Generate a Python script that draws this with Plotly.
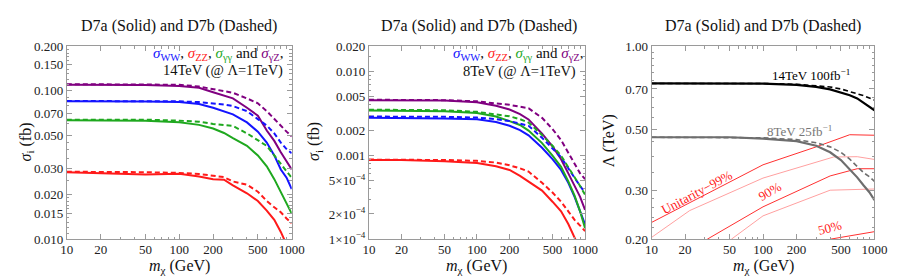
import math
import plotly.graph_objects as go

# ---------------- data ----------------
mass = [10, 20, 50, 100, 150, 200, 250, 300, 400, 500, 600, 700, 800, 900, 1000]

# 14 TeV panel (fb)
ww14_a = [0.085, 0.085, 0.0848, 0.084, 0.0815, 0.077, 0.073, 0.0695, 0.0613, 0.0531, 0.0448, 0.0367, 0.0295, 0.026, 0.0218]
ww14_b = [0.0855, 0.0855, 0.0855, 0.085, 0.084, 0.0825, 0.081, 0.079, 0.073, 0.0645, 0.0584, 0.0517, 0.0448, 0.0405, 0.038]
zz14_a = [0.0283, 0.0280, 0.0273, 0.0276, 0.0265, 0.0254, 0.0252, 0.0231, 0.0204, 0.0181, 0.0156, 0.0135, 0.0112, 0.0092, 0.008]
zz14_b = [0.0285, 0.0285, 0.0283, 0.028, 0.0275, 0.0268, 0.0262, 0.0245, 0.0233, 0.0209, 0.0181, 0.0164, 0.0152, 0.0138, 0.0128]
aa14_a = [0.0635, 0.0635, 0.063, 0.0615, 0.059, 0.0557, 0.052, 0.048, 0.0426, 0.0367, 0.031, 0.0254, 0.0209, 0.0176, 0.0149]
aa14_b = [0.064, 0.064, 0.064, 0.063, 0.062, 0.0598, 0.059, 0.058, 0.0517, 0.0467, 0.0426, 0.0367, 0.0325, 0.0287, 0.026]
az14_a = [0.110, 0.110, 0.1095, 0.108, 0.105, 0.098, 0.0935, 0.089, 0.077, 0.068, 0.054, 0.046, 0.0386, 0.0335, 0.0295]
az14_b = [0.111, 0.111, 0.1105, 0.110, 0.107, 0.103, 0.099, 0.097, 0.089, 0.0825, 0.073, 0.0645, 0.0584, 0.0531, 0.0493]

# 8 TeV panel (fb)
ww8_a = [0.0028, 0.00279, 0.00275, 0.0027, 0.0025, 0.00225, 0.002, 0.00173, 0.00123, 0.0009, 0.00067, 0.00047, 0.00032, 0.000215, 0.00015]
ww8_b = [0.0029, 0.0029, 0.00288, 0.00282, 0.0027, 0.00256, 0.0024, 0.00225, 0.00162, 0.0012, 0.00095, 0.0007, 0.00053, 0.00043, 0.00036]
zz8_a = [0.00088, 0.00088, 0.00085, 0.00081, 0.00074, 0.00067, 0.00057, 0.00049, 0.00038, 0.00028, 0.000215, 0.000152, 0.0001, 0.000075, 0.00006]
zz8_b = [0.00089, 0.00089, 0.00088, 0.00086, 0.00082, 0.00076, 0.0007, 0.00064, 0.00047, 0.00036, 0.00028, 0.000215, 0.00017, 0.000145, 0.000125]
aa8_a = [0.00342, 0.0034, 0.00335, 0.0032, 0.0029, 0.00256, 0.0023, 0.00197, 0.0014, 0.00099, 0.00073, 0.00049, 0.00033, 0.000215, 0.000135]
aa8_b = [0.0035, 0.0035, 0.00345, 0.0033, 0.0031, 0.00292, 0.0027, 0.00246, 0.00175, 0.0013, 0.00099, 0.00073, 0.00054, 0.00043, 0.00034]
az8_a = [0.00455, 0.00453, 0.0045, 0.0043, 0.0039, 0.00352, 0.0031, 0.00268, 0.00181, 0.00128, 0.0009, 0.00061, 0.00043, 0.00032, 0.000224]
az8_b = [0.0046, 0.0046, 0.00455, 0.0044, 0.0042, 0.0040, 0.0038, 0.00364, 0.0028, 0.00206, 0.00152, 0.00107, 0.00079, 0.00061, 0.00052]

# Lambda reach panel (TeV)
mass3 = [10, 50, 100, 200, 300, 400, 500, 600, 700, 800, 900, 1000]
lam14_a = [0.733, 0.733, 0.732, 0.724, 0.712, 0.698, 0.681, 0.664, 0.647, 0.625, 0.605, 0.586]
lam14_b = [0.733, 0.733, 0.733, 0.728, 0.720, 0.712, 0.700, 0.686, 0.674, 0.662, 0.649, 0.638]
lam8_a = [0.468, 0.468, 0.463, 0.453, 0.436, 0.413, 0.387, 0.358, 0.335, 0.313, 0.296, 0.277]
lam8_b = [0.468, 0.468, 0.466, 0.459, 0.447, 0.432, 0.413, 0.390, 0.367, 0.348, 0.337, 0.324]

u99_dark_m = [10, 100, 300, 600, 1000]
u99_dark = [0.230, 0.372, 0.432, 0.478, 0.476]
u99_light_m = [10, 22, 100, 430, 700, 1000]
u99_light = [0.203, 0.254, 0.333, 0.397, 0.398, 0.389]
u90_dark_m = [31.6, 100, 400, 700, 1000]
u90_dark = [0.2, 0.262, 0.339, 0.36, 0.36]
u90_light_m = [52, 100, 400, 1000]
u90_light = [0.2, 0.243, 0.301, 0.304]
u50_dark_m = [400, 1000]
u50_dark = [0.2, 0.213]

x_ticks = [10, 20, 50, 100, 200, 500, 1000]
x_minor = [30, 40, 60, 70, 80, 90, 300, 400, 600, 700, 800, 900]
y1_ticks = [0.010, 0.015, 0.020, 0.030, 0.050, 0.070, 0.100, 0.150, 0.200]
y1_text = ["0.010", "0.015", "0.020", "0.030", "0.050", "0.070", "0.100", "0.150", "0.200"]
y1_minor = [0.011, 0.012, 0.013, 0.014, 0.016, 0.017, 0.018, 0.019, 0.025, 0.035, 0.04, 0.045, 0.06, 0.08, 0.09, 0.11, 0.12, 0.13, 0.14, 0.16, 0.17, 0.18, 0.19]
y2_ticks = [1e-4, 2e-4, 5e-4, 0.001, 0.002, 0.005, 0.010, 0.020]
y2_text = ["1×10<sup>−4</sup>", "2×10<sup>−4</sup>", "5×10<sup>−4</sup>", "0.001", "0.002", "0.005", "0.010", "0.020"]
y2_minor = [3e-4, 4e-4, 6e-4, 7e-4, 8e-4, 9e-4, 0.003, 0.004, 0.006, 0.007, 0.008, 0.009, 0.015]
y3_ticks = [0.20, 0.30, 0.50, 0.70, 1.00]
y3_text = ["0.20", "0.30", "0.50", "0.70", "1.00"]
y3_minor = [0.22, 0.24, 0.26, 0.28, 0.35, 0.40, 0.45, 0.55, 0.60, 0.65, 0.75, 0.80, 0.85, 0.90, 0.95]

# ---------------- style ----------------
BLUE = "#1414ff"
RED = "#ff1a1a"
GREEN = "#1fa81f"
PURPLE = "#800080"
DASH = "5px,3px"
FONT = "Liberation Serif"
W, H = 900, 278

fig = go.Figure()

def add(x, y, color, dash, xa, ya, width=2.0):
    fig.add_trace(go.Scatter(x=x, y=y, mode="lines", xaxis=xa, yaxis=ya,
                             line=dict(color=color, width=width, dash=dash),
                             showlegend=False, hoverinfo="skip"))

for ys, c in [(az14_a, PURPLE), (ww14_a, BLUE), (aa14_a, GREEN), (zz14_a, RED)]:
    add(mass, ys, c, "solid", "x", "y")
for ys, c in [(az14_b, PURPLE), (ww14_b, BLUE), (aa14_b, GREEN), (zz14_b, RED)]:
    add(mass, ys, c, DASH, "x", "y")

for ys, c in [(az8_a, PURPLE), (ww8_a, BLUE), (aa8_a, GREEN), (zz8_a, RED)]:
    add(mass, ys, c, "solid", "x2", "y2")
for ys, c in [(az8_b, PURPLE), (ww8_b, BLUE), (aa8_b, GREEN), (zz8_b, RED)]:
    add(mass, ys, c, DASH, "x2", "y2")

LIGHT = "#ffa0a0"
DARKR = "#ff3030"
add(u99_light_m, u99_light, LIGHT, "solid", "x3", "y3", 1.0)
add(u90_light_m, u90_light, LIGHT, "solid", "x3", "y3", 1.0)
add(u99_dark_m, u99_dark, DARKR, "solid", "x3", "y3", 1.0)
add(u90_dark_m, u90_dark, DARKR, "solid", "x3", "y3", 1.0)
add(u50_dark_m, u50_dark, DARKR, "solid", "x3", "y3", 1.0)
add(mass3, lam14_a, "#000000", "solid", "x3", "y3", 2.2)
add(mass3, lam14_b, "#000000", DASH, "x3", "y3", 1.6)
add(mass3, lam8_a, "#6e6e6e", "solid", "x3", "y3", 2.2)
add(mass3, lam8_b, "#6e6e6e", DASH, "x3", "y3", 1.6)

def px(x):
    return x / W

def py(y):
    return 1 - y / H

ydom = [py(237), py(33)]
axis_common = dict(type="log", showline=True, linecolor="#9a9a9a", linewidth=1,
                   mirror="ticks", ticks="inside", ticklen=5, tickcolor="#9a9a9a",
                   showgrid=False, zeroline=False,
                   tickfont=dict(family=FONT, size=13, color="#222"))

def xaxis(dom, anchor):
    return dict(axis_common, domain=dom, anchor=anchor, range=[1, 3],
                tickmode="array", tickvals=x_ticks, ticktext=[str(v) for v in x_ticks],
                ticklabelstandoff=-2,
                minor=dict(ticks="inside", ticklen=2.5, tickcolor="#9a9a9a", tickmode="array", tickvals=x_minor))

def yaxis(anchor, lo, hi, tv, tt, mv):
    return dict(axis_common, domain=ydom, anchor=anchor,
                range=[math.log10(lo), math.log10(hi)],
                tickmode="array", tickvals=tv, ticktext=tt,
                minor=dict(ticks="inside", ticklen=2.5, tickcolor="#9a9a9a", tickmode="array", tickvals=mv))

fig.update_layout(
    width=W, height=H, margin=dict(l=0, r=0, t=0, b=0),
    paper_bgcolor="white", plot_bgcolor="white",
    font=dict(family=FONT, size=13, color="#111"),
    xaxis=xaxis([px(53), px(283)], "y"),
    yaxis=yaxis("x", 0.01, 0.2, y1_ticks, y1_text, y1_minor),
    xaxis2=xaxis([px(362), px(583)], "y2"),
    yaxis2=yaxis("x2", 1e-4, 0.02, y2_ticks, y2_text, y2_minor),
    xaxis3=xaxis([px(651), px(879)], "y3"),
    yaxis3=yaxis("x3", 0.2, 1.0, y3_ticks, y3_text, y3_minor),
)

ann = []
def text(x, y, s, size=13, color="#111", angle=0, xanchor="center"):
    ann.append(dict(x=px(x), y=py(y), xref="paper", yref="paper", text=s, showarrow=False,
                    font=dict(family=FONT, size=size, color=color), textangle=angle,
                    xanchor=xanchor, yanchor="middle"))

TITLE = "D7a (Solid) and D7b (Dashed)"
text(168, 12, TITLE, 16)
text(475, 12, TITLE, 16)
text(765, 12, TITLE, 16)

leg = (f"<span style='color:{BLUE}'><i>σ</i><sub>WW</sub></span>, "
       f"<span style='color:{RED}'><i>σ</i><sub>ZZ</sub></span>, "
       f"<span style='color:{GREEN}'><i>σ</i><sub>γγ</sub></span> and "
       f"<span style='color:{PURPLE}'><i>σ</i><sub>γZ</sub></span>,")
text(208, 41, leg, 15)
text(213, 59, "14TeV (@ Λ=1TeV)", 14.5)
text(515, 41, leg, 15)
text(516, 60, "8TeV (@ Λ=1TeV)", 14.5)

xt = "<i>m</i><sub>χ</sub> (GeV)"
text(168, 266, xt, 16)
text(472, 266, xt, 16)
text(766, 266, xt, 16)
yt = "<i>σ</i><sub>i</sub> (fb)"
text(12, 134, yt, 16, angle=-90)
text(307, 134, yt, 16, angle=-90)
text(607, 133, "Λ (TeV)", 16, angle=-90)

text(814, 63, "14TeV 100fb<sup>−1</sup>", 13, "#000")
text(802, 123, "8TeV 25fb<sup>−1</sup>", 13, "#777")
text(697, 188, "Unitarity−99%", 13, RED, angle=-28)
text(772, 187, "90%", 13, RED, angle=-30)
text(834, 225, "50%", 13, RED, angle=-15)

fig.update_layout(annotations=ann)
fig.write_html("out.html")
